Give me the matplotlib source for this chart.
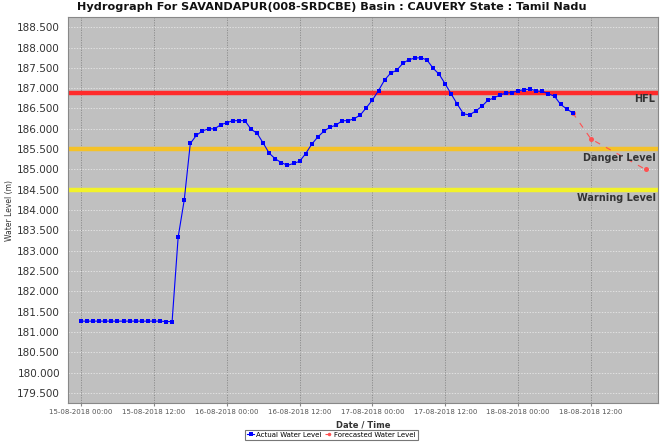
import datetime as dt

import matplotlib
matplotlib.use("Agg")
import matplotlib.pyplot as plt
import matplotlib.dates as mdates
import pandas as pd

# Obserwowany poziom wody (co godzinę od 15-08-2018 00:00)
actual_start = "2018-08-15 00:00"
actual_level = [
    181.27, 181.27, 181.27, 181.27, 181.27, 181.27, 181.27, 181.27,
    181.27, 181.27, 181.27, 181.27, 181.27, 181.27, 181.26, 181.26,
    183.34, 184.25, 185.64, 185.84, 185.95, 186.00, 186.00, 186.10,
    186.15, 186.20, 186.20, 186.20, 185.99, 185.89, 185.65, 185.40,
    185.26, 185.17, 185.10, 185.15, 185.20, 185.39, 185.62, 185.80,
    185.94, 186.04, 186.09, 186.20, 186.20, 186.25, 186.34, 186.52,
    186.71, 186.94, 187.20, 187.37, 187.44, 187.61, 187.70, 187.74,
    187.75, 187.69, 187.49, 187.34, 187.10, 186.85, 186.60, 186.37,
    186.34, 186.44, 186.55, 186.70, 186.76, 186.83, 186.88, 186.89,
    186.94, 186.96, 186.98, 186.93, 186.92, 186.86, 186.80, 186.60,
    186.49, 186.39,
]

# Prognoza
forecast_time = ["2018-08-18 09:00", "2018-08-18 12:00", "2018-08-18 21:00"]
forecast_level = [186.39, 185.75, 185.00]

# Poziomy referencyjne
hfl_level = 186.87
danger_level = 185.5
warning_level = 184.5

y_ticks = [179.5 + 0.5 * i for i in range(19)]

title = "Hydrograph For SAVANDAPUR(008-SRDCBE) Basin : CAUVERY State : Tamil Nadu"

actual_time = pd.date_range(actual_start, periods=len(actual_level), freq="h")
forecast_time = pd.to_datetime(forecast_time)

fig = plt.figure(figsize=(6.63, 4.42), dpi=100)
ax = fig.add_axes([0.103, 0.0876, 0.890, 0.873])
ax.set_facecolor("#c0c0c0")

# Linie referencyjne z podpisami
for level, color, label, dy in [(hfl_level, "#ff2a2a", "HFL", -0.3),
                                (danger_level, "#f5c228", "Danger Level", -2.5),
                                (warning_level, "#f2f22a", "Warning Level", -2.5)]:
    ax.axhline(level, color=color, linewidth=3.2, zorder=2)
    ax.annotate(label, xy=(1, level), xycoords=("axes fraction", "data"),
                xytext=(-2, dy), textcoords="offset points",
                ha="right", va="top", fontsize=7, fontweight="bold",
                color="#333333", zorder=5)

ax.plot(actual_time, actual_level, color="#0000ff", linewidth=0.8,
        marker="s", markersize=3.5, markeredgewidth=0,
        label="Actual Water Level", zorder=4)
ax.plot(forecast_time, forecast_level, color="#ff5050", linewidth=0.8,
        linestyle=(0, (5, 6)), marker="o", markersize=3.6,
        markeredgewidth=0, label="Forecasted Water Level", zorder=3)

ax.set_xlim(dt.datetime(2018, 8, 14, 21, 54), dt.datetime(2018, 8, 18, 23, 6))
ax.set_ylim(179.25, 188.74)
ax.set_yticks(y_ticks)
ax.yaxis.set_major_formatter(plt.FormatStrFormatter("%.3f"))
ax.xaxis.set_major_locator(mdates.HourLocator(byhour=[0, 12]))
ax.xaxis.set_major_formatter(mdates.DateFormatter("%d-%m-%Y %H:%M"))

ax.tick_params(axis="y", labelsize=7.5, labelcolor="#333333", length=0, pad=6)
ax.tick_params(axis="x", labelsize=5, labelcolor="#555555", length=2,
               color="#888888", pad=2)

ax.grid(True, axis="x", color="#888888", linestyle=(0, (1.5, 1.5)), linewidth=0.6)
ax.grid(True, axis="y", color="#eeeeee", linestyle=(0, (2, 2)), linewidth=0.5)
ax.set_axisbelow(True)
for side in ax.spines.values():
    side.set_color("#888888")
    side.set_linewidth(0.8)

ax.set_xlabel("Date / Time", fontsize=6, fontweight="bold", color="#333333",
              labelpad=4)
ax.set_ylabel("Water Level (m)", fontsize=5.5, color="#333333", labelpad=2)

fig.text(0.5, 0.984, title, ha="center", va="center", fontsize=8.1,
         fontweight="bold", color="#111111")

leg = fig.legend(loc="center", bbox_to_anchor=(0.5, 0.016), ncol=2,
                 fontsize=5, frameon=True, fancybox=False, handlelength=1.0,
                 handletextpad=0.3, columnspacing=0.5, borderpad=0.3,
                 markerscale=0.7)
leg.get_frame().set_edgecolor("#555555")
leg.get_frame().set_linewidth(0.8)

fig.savefig("out.png", dpi=100)
plt.close(fig)
